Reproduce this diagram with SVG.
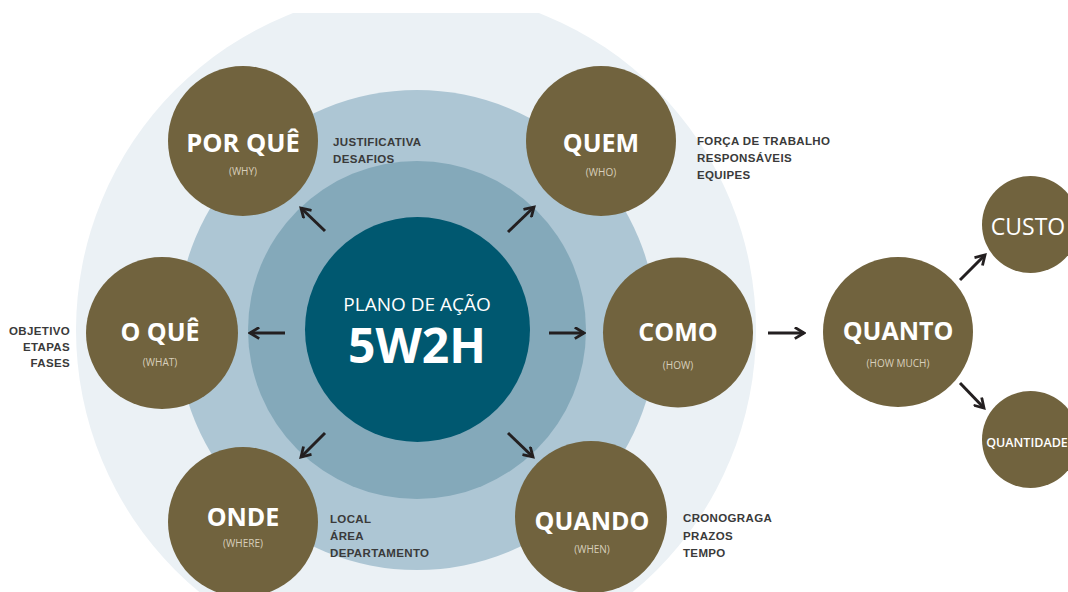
<svg xmlns="http://www.w3.org/2000/svg" width="1068" height="592" viewBox="0 0 1068 592">
<defs>
<clipPath id="clip"><rect x="0" y="13" width="1068" height="579"/></clipPath>
<marker id="ah" viewBox="0 0 12 12" refX="10" refY="6" markerWidth="13" markerHeight="13" markerUnits="userSpaceOnUse" orient="auto">
<path d="M1.5,0.8 L10,6 L1.5,11.2" fill="none" stroke="#231f20" stroke-width="2.6"/>
</marker>
</defs>
<style>
.node{fill:#71633e}
.t{font-family:"Open Sans","DejaVu Sans",sans-serif;font-weight:700;fill:#ffffff;text-anchor:middle}
.s{font-family:"Open Sans","DejaVu Sans",sans-serif;font-size:10px;fill:#d8cfbb;text-anchor:middle}
.l{font-family:"Liberation Sans","Arial",sans-serif;font-weight:700;font-size:11.5px;letter-spacing:0.35px;fill:#3a3a3a}
.c line{stroke:#231f20;stroke-width:3;marker-end:url(#ah)}
</style>
<rect width="1068" height="592" fill="#ffffff"/>
<g id="rings" clip-path="url(#clip)">
<circle cx="416" cy="330" r="340" fill="#ebf1f5"/>
<circle cx="417" cy="330" r="240" fill="#adc6d4"/>
<circle cx="417" cy="330" r="169" fill="#84a9ba"/>
</g>
<g id="center">
<circle cx="417.5" cy="329.5" r="112.5" fill="#005870"/>
<text x="417" y="311" font-family="Open Sans, DejaVu Sans, sans-serif" font-size="19" fill="#ffffff" text-anchor="middle">PLANO DE AÇÃO</text>
<text x="417" y="363" font-family="Open Sans, DejaVu Sans, sans-serif" font-size="48" font-weight="700" fill="#ffffff" text-anchor="middle">5W2H</text>
</g>
<g id="porque">
<circle class="node" cx="243" cy="141" r="75"/>
<text class="t" x="243" y="152" font-size="25.5">POR QUÊ</text>
<text class="s" x="243" y="175">(WHY)</text>
<text class="l" x="333" y="146">JUSTIFICATIVA</text>
<text class="l" x="333" y="163">DESAFIOS</text>
</g>
<g id="quem">
<circle class="node" cx="601" cy="141" r="75"/>
<text class="t" x="601" y="152" font-size="25">QUEM</text>
<text class="s" x="601" y="176">(WHO)</text>
<text class="l" x="697" y="145">FORÇA DE TRABALHO</text>
<text class="l" x="697" y="162">RESPONSÁVEIS</text>
<text class="l" x="697" y="179">EQUIPES</text>
</g>
<g id="oque">
<circle class="node" cx="162" cy="333" r="76"/>
<text class="t" x="160" y="341" font-size="25">O QUÊ</text>
<text class="s" x="160" y="366">(WHAT)</text>
<text class="l" x="70" y="335" text-anchor="end">OBJETIVO</text>
<text class="l" x="70" y="351" text-anchor="end">ETAPAS</text>
<text class="l" x="70" y="367" text-anchor="end">FASES</text>
</g>
<g id="como">
<circle class="node" cx="678" cy="332.5" r="75"/>
<text class="t" x="678" y="341" font-size="25">COMO</text>
<text class="s" x="678" y="369">(HOW)</text>
</g>
<g id="onde">
<circle class="node" cx="243" cy="522" r="75"/>
<text class="t" x="243" y="526" font-size="25">ONDE</text>
<text class="s" x="243" y="547">(WHERE)</text>
<text class="l" x="330" y="523">LOCAL</text>
<text class="l" x="330" y="540">ÁREA</text>
<text class="l" x="330" y="557">DEPARTAMENTO</text>
</g>
<g id="quando">
<circle class="node" cx="591" cy="517" r="76"/>
<text class="t" x="592" y="530" font-size="25">QUANDO</text>
<text class="s" x="592" y="553">(WHEN)</text>
<text class="l" x="683" y="522">CRONOGRAGA</text>
<text class="l" x="683" y="540">PRAZOS</text>
<text class="l" x="683" y="557">TEMPO</text>
</g>
<g id="quanto">
<circle class="node" cx="898" cy="332" r="75"/>
<text class="t" x="898" y="340" font-size="25">QUANTO</text>
<text class="s" x="898" y="367">(HOW MUCH)</text>
</g>
<g id="custo">
<circle class="node" cx="1030.5" cy="224.5" r="48.5"/>
<text x="1028" y="235" font-family="Open Sans, DejaVu Sans, sans-serif" font-size="23" fill="#ffffff" text-anchor="middle">CUSTO</text>
</g>
<g id="quantidade">
<circle class="node" cx="1030.5" cy="439.5" r="48.5"/>
<text x="1027" y="447" font-family="Open Sans, DejaVu Sans, sans-serif" font-size="12.5" font-weight="600" fill="#ffffff" text-anchor="middle">QUANTIDADE</text>
</g>
<g id="connectors" class="c">
<line x1="325" y1="231" x2="301" y2="208"/>
<line x1="508" y1="232" x2="534" y2="207"/>
<line x1="285" y1="333" x2="250" y2="333"/>
<line x1="549" y1="333" x2="584" y2="333"/>
<line x1="325" y1="433" x2="301" y2="457"/>
<line x1="508" y1="433" x2="533" y2="457"/>
<line x1="768" y1="333" x2="804" y2="333"/>
<line x1="960" y1="280" x2="985" y2="255"/>
<line x1="960" y1="383" x2="984" y2="408"/>
</g>
</svg>
